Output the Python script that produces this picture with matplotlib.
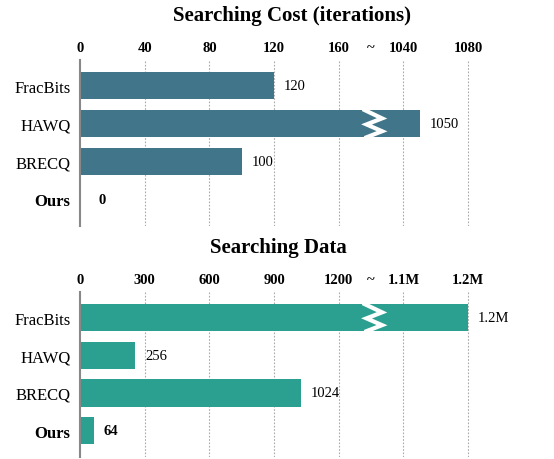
import numpy as np
import matplotlib
matplotlib.use('Agg')
import matplotlib.pyplot as plt

plt.rcParams['font.family'] = ['Liberation Serif', 'DejaVu Serif']

methods = ['FracBits', 'HAWQ', 'BRECQ', 'Ours']

# searching cost (iterations)
cost_values = [120, 1050, 100, 0]
cost_labels = ['120', '1050', '100', '0']
cost_ticks = [0, 40, 80, 120, 160, 1040, 1080]
cost_tick_labels = ['0', '40', '80', '120', '160', '1040', '1080']

# searching data (samples)
data_values = [1.2e6, 256, 1024, 64]
data_labels = ['1.2M', '256', '1024', '64']
data_ticks = [0, 300, 600, 900, 1200, 1.1e6, 1.2e6]
data_tick_labels = ['0', '300', '600', '900', '1200', '1.1M', '1.2M']


def make_scale(low_step, low_max, high_start, high_step):
    # broken axis: linear up to low_max, one empty slot, then high part
    n_low = low_max / low_step

    def f(v):
        if v <= low_max:
            return v / low_step
        return n_low + 1 + (v - high_start) / high_step
    return f, n_low + 0.5


def draw(ax, values, labels, ticks, tick_labels, scale, brk, color):
    y = np.arange(len(methods))
    pos = [scale(v) for v in values]
    ax.barh(y, pos, height=0.72, color=color, zorder=2)

    # zigzag on bars that cross the break
    for yi, p in zip(y, pos):
        if p > brk:
            zx = [brk - 0.1, brk + 0.17, brk - 0.07, brk + 0.17, brk - 0.07]
            zy = [yi - 0.36, yi - 0.14, yi + 0.02, yi + 0.2, yi + 0.36]
            ax.plot(zx, zy, color='white', lw=3.0, zorder=3,
                    solid_joinstyle='miter')

    for yi, p, lab, m in zip(y, pos, labels, methods):
        off = 7 if p > 0 else 13
        ax.annotate(lab, (p, yi), xytext=(off, 0), textcoords='offset points',
                    va='center', ha='left', fontsize=10.5,
                    fontweight='bold' if m == 'Ours' else 'normal')

    tpos = [scale(t) for t in ticks]
    for t in tpos[1:]:
        ax.axvline(t, color='#aaaaaa', lw=0.8, ls=(0, (1.5, 1.5)), zorder=1)

    ax.set_xticks(tpos + [brk])
    ax.set_xticklabels(tick_labels + ['~'], fontweight='bold', fontsize=10.5)
    ax.xaxis.tick_top()
    ax.tick_params(axis='x', length=0, pad=4.5)

    ax.set_yticks(y)
    ax.set_yticklabels(methods, fontsize=12)
    for tl in ax.get_yticklabels():
        if tl.get_text() == 'Ours':
            tl.set_fontweight('bold')
    ax.tick_params(axis='y', length=0, pad=7)

    ax.set_xlim(0, 6.2)
    ax.set_ylim(3.7, -0.68)
    for s in ['top', 'right', 'bottom']:
        ax.spines[s].set_visible(False)
    ax.spines['left'].set_color('#888888')
    ax.spines['left'].set_linewidth(1.5)


fig = plt.figure(figsize=(5.54, 4.60), dpi=100)

ax1 = fig.add_axes([80 / 554, 233 / 460, 401 / 554, 166 / 460])
ax2 = fig.add_axes([80 / 554, 2 / 460, 401 / 554, 165 / 460])

cost_scale, cost_brk = make_scale(40, 160, 1040, 40)
data_scale, data_brk = make_scale(300, 1200, 1.1e6, 1e5)

draw(ax1, cost_values, cost_labels, cost_ticks, cost_tick_labels,
     cost_scale, cost_brk, '#417589')
draw(ax2, data_values, data_labels, data_ticks, data_tick_labels,
     data_scale, data_brk, '#2ca090')

fig.text(292 / 554, 1 - 16 / 460, 'Searching Cost (iterations)', ha='center',
         va='center', fontsize=15, fontweight='bold')
fig.text(278 / 554, 1 - 248 / 460, 'Searching Data', ha='center',
         va='center', fontsize=15, fontweight='bold')

fig.savefig('out.png', dpi=100)
